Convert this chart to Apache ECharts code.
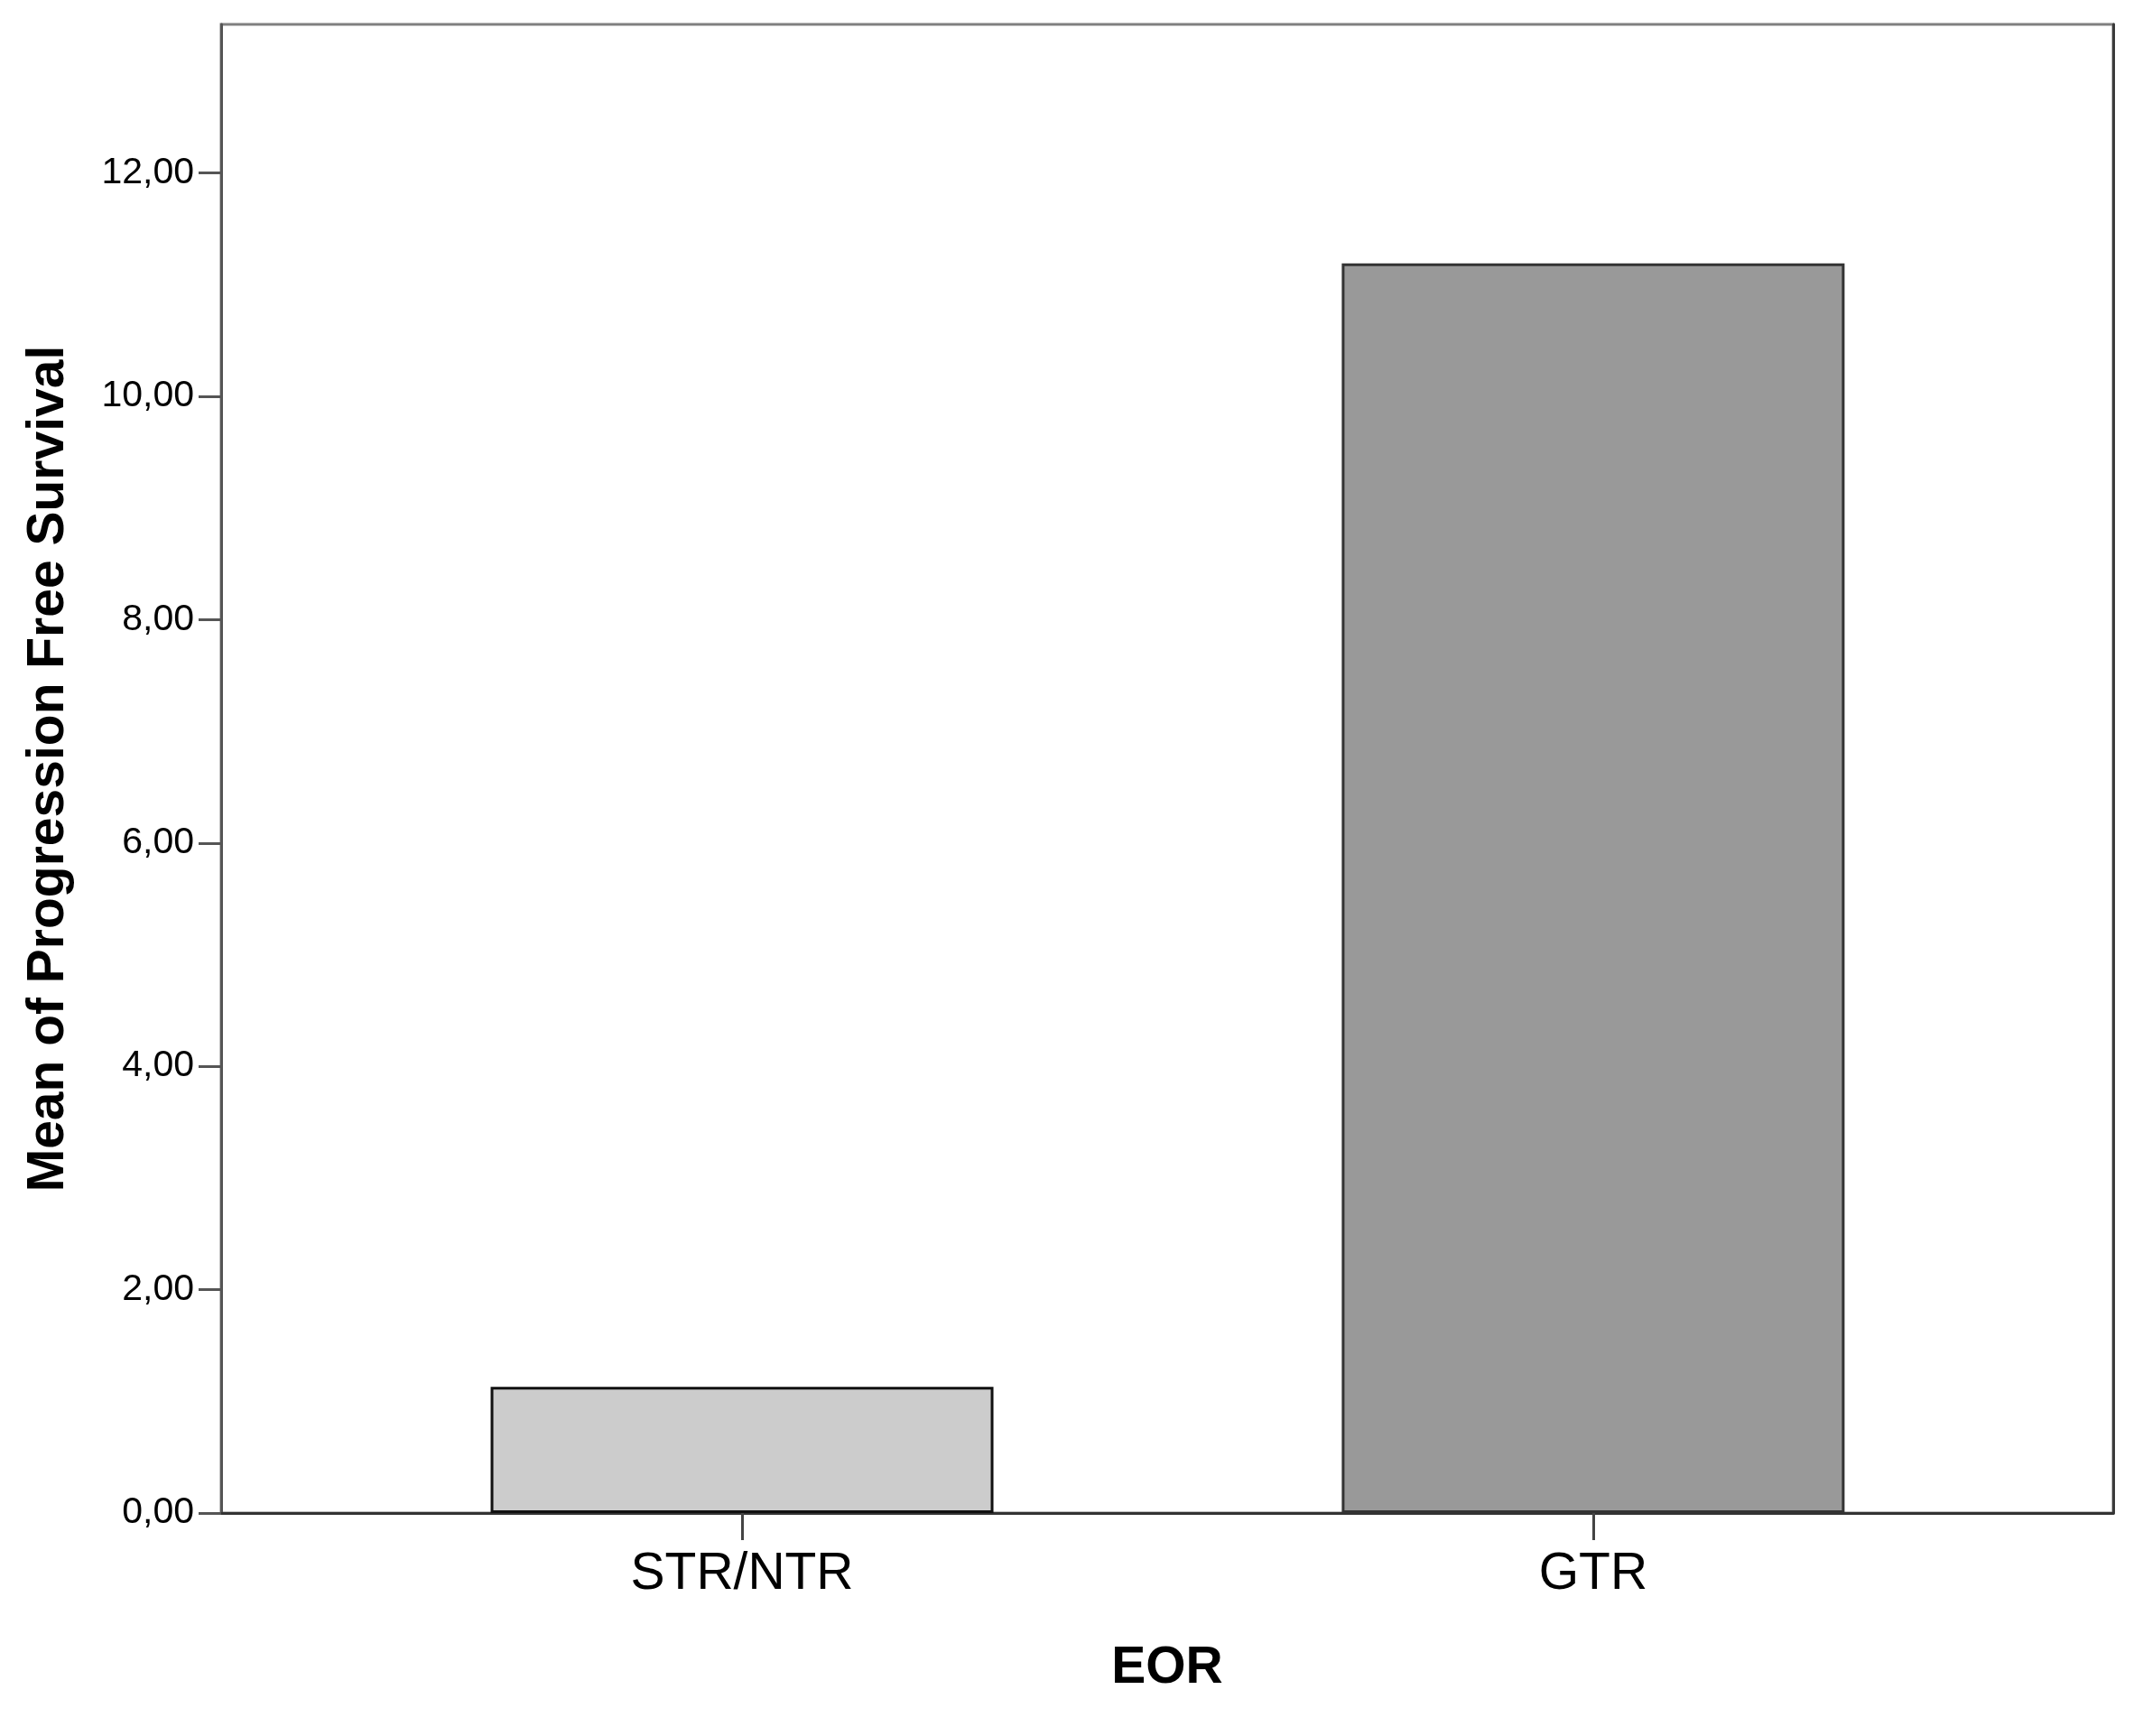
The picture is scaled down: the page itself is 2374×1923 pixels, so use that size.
<!DOCTYPE html>
<html>
<head>
<meta charset="utf-8">
<script src="https://cdn.jsdelivr.net/npm/echarts@6/dist/echarts.min.js"></script>
<style>
html,body{margin:0;padding:0;background:#fff;}
#chart{width:2374px;height:1923px;}
</style>
</head>
<body>
<div id="chart"></div>
<script>
const categories = ['STR/NTR', 'GTR'];
const meanPFS = [1.13, 11.19];
const barColors = ['#cccccc', '#999999'];
const barBorders = ['#111111', '#333333'];
const yTicks = [0, 2, 4, 6, 8, 10, 12];
const xTitle = 'EOR';
const yTitle = 'Mean of Progression Free Survival';

const FONT = 'Liberation Sans, Arial, sans-serif';
const chart = echarts.init(document.getElementById('chart'), null, {renderer: 'canvas'});

const seriesData = categories.map((c, i) => ({
  value: [i, meanPFS[i]],
  itemStyle: {color: barColors[i], borderColor: barBorders[i], borderWidth: 3}
}));
const catPos = categories.map((c, i) => i);

chart.setOption({
  animation: false,
  backgroundColor: '#ffffff',
  grid: {
    left: 245, right: 33, top: 27, bottom: 247,
    show: true, borderColor: '#808080', borderWidth: 3, backgroundColor: 'transparent'
  },
  xAxis: {
    type: 'value',
    min: -0.612, max: 1.611,
    name: xTitle,
    nameLocation: 'middle',
    nameGap: 144,
    nameTextStyle: {fontFamily: FONT, fontSize: 57, fontWeight: 'bold', color: '#000'},
    axisLine: {show: true, onZero: false, lineStyle: {color: '#333333', width: 3}},
    axisTick: {show: true, length: 30, lineStyle: {color: '#444444', width: 3}, customValues: catPos},
    axisLabel: {
      show: true, margin: 40, fontFamily: FONT, fontSize: 57, color: '#000',
      customValues: catPos,
      formatter: v => categories[Math.round(v)] || ''
    },
    splitLine: {show: false}
  },
  yAxis: [{
    type: 'value',
    position: 'left',
    min: 0, max: 13.33,
    name: yTitle,
    nameLocation: 'middle',
    nameGap: 162,
    nameTextStyle: {fontFamily: FONT, fontSize: 57, fontWeight: 'bold', color: '#000'},
    axisLine: {show: true, onZero: false, lineStyle: {color: '#555555', width: 3}},
    axisTick: {show: true, length: 25, lineStyle: {color: '#555555', width: 3}, customValues: yTicks},
    axisLabel: {
      show: true, margin: 30, fontFamily: FONT, fontSize: 41, color: '#000',
      customValues: yTicks,
      formatter: v => v.toFixed(2).replace('.', ',')
    },
    splitLine: {show: false}
  }, {
    type: 'value',
    position: 'right',
    min: 0, max: 13.33,
    axisLine: {show: true, onZero: false, lineStyle: {color: '#3a3a3a', width: 3}},
    axisTick: {show: false},
    axisLabel: {show: false},
    splitLine: {show: false}
  }],
  series: [{
    type: 'bar',
    data: seriesData,
    barWidth: 557,
    yAxisIndex: 0
  }]
});
</script>
</body>
</html>
